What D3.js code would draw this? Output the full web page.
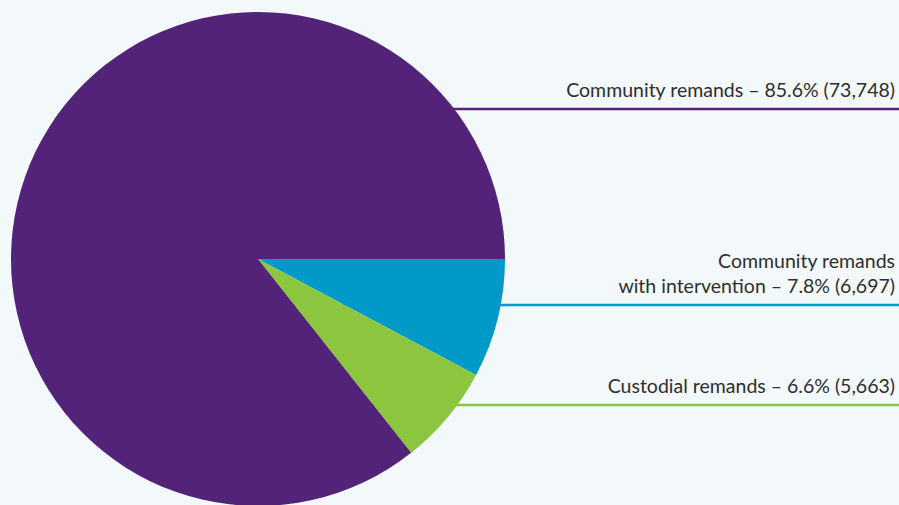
<!DOCTYPE html>
<html><head><meta charset="utf-8">
<script src="https://cdn.jsdelivr.net/npm/d3@7"></script>
<style>
html,body{margin:0;padding:0;background:#f3f8fb;}
svg{display:block;}
</style></head>
<body>
<svg id="chart" width="899" height="505"></svg>
<script>
const categories = ["Community remands with intervention", "Custodial remands", "Community remands"];
const values = [6697, 5663, 73748];
const percents = ["7.8%", "6.6%", "85.6%"];
const labelLines = [
  ["Community remands", "with intervention – 7.8% (6,697)"],
  ["Custodial remands – 6.6% (5,663)"],
  ["Community remands – 85.6% (73,748)"]
];
const colors = ["#0099c8", "#8cc63f", "#53237a"];

const W = 899, H = 505;
const cx = 258, cy = 259, R = 247;
const svg = d3.select("#chart");
svg.append("rect").attr("width", W).attr("height", H).attr("fill", "#f3f8fb");

const pie = d3.pie().sort(null).value(d => d)
  .startAngle(Math.PI / 2).endAngle(Math.PI / 2 + 2 * Math.PI);
const arcs = pie(values);
const arc = d3.arc().innerRadius(0).outerRadius(R);

const lineY = [305, 405, 109];

const g = svg.append("g");
g.selectAll("line.lead").data(arcs).join("line")
  .attr("class", "lead")
  .attr("x1", cx).attr("x2", W)
  .attr("y1", (d, i) => lineY[i]).attr("y2", (d, i) => lineY[i])
  .attr("stroke", (d, i) => colors[i]).attr("stroke-width", 2.5);

g.append("g").attr("transform", `translate(${cx},${cy})`)
  .selectAll("path").data(arcs).join("path")
  .attr("d", arc).attr("fill", (d, i) => colors[i]);

const lh = 25;
labelLines.forEach((lines, i) => {
  const t = svg.append("text")
    .attr("text-anchor", "end")
    .attr("font-family", "Lato, 'Open Sans', sans-serif")
    .attr("font-size", 19.5)
    .attr("fill", "#2e2e2e");
  lines.forEach((ln, j) => {
    t.append("tspan").attr("x", 895)
      .attr("y", lineY[i] - 12 - (lines.length - 1 - j) * lh)
      .text(ln);
  });
});
</script>
</body></html>
